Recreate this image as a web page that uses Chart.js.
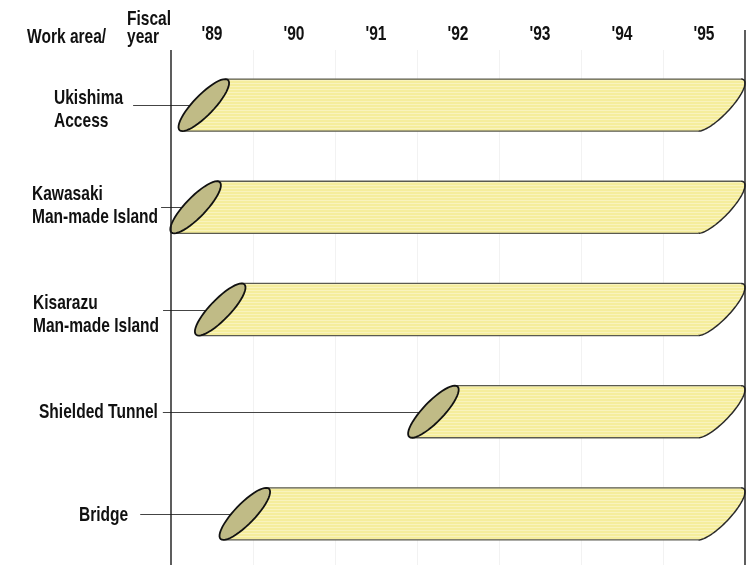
<!DOCTYPE html>
<html>
<head>
<meta charset="utf-8">
<script src="https://cdn.jsdelivr.net/npm/chart.js@4.4.1/dist/chart.umd.min.js"></script>
<style>
  html, body { margin: 0; padding: 0; background: #ffffff; }
  #wrap { width: 754px; height: 565px; position: relative; }
  canvas { display: block; }
</style>
</head>
<body>
<div id="wrap"><canvas id="c" width="754" height="565"></canvas></div>
<script>
// ---- data ----
const workAreas = [
  ['Ukishima', 'Access'],
  ['Kawasaki', 'Man-made Island'],
  ['Kisarazu', 'Man-made Island'],
  ['Shielded Tunnel'],
  ['Bridge']
];
const startYear = [1989.4, 1989.3, 1989.6, 1992.2, 1989.9];
const endYear = [1996.0, 1996.0, 1996.0, 1996.0, 1996.0];
const fiscalYears = ["'89", "'90", "'91", "'92", "'93", "'94", "'95"];

// ---- styling (layout of the hand-set row labels) ----
const labelLeft = [54, 32, 33, 39, 79];
const labelFirstBaseline = [-1, -7, -1, 6, 7];
const leaderGap = [10, 3, 4, 5, 12];

const FONT = '"Liberation Sans", Arial, sans-serif';
const SQUEEZE = 0.74;

function condensedText(ctx, text, x, y) {
  const w = ctx.measureText(text).width * SQUEEZE;
  ctx.fillText(text, x, y, w);
  return w;
}

// stripe pattern for tube body
function makePattern(ctx) {
  const pc = document.createElement('canvas');
  pc.width = 4; pc.height = 3;
  const p = pc.getContext('2d');
  p.fillStyle = '#f5ed9c'; p.fillRect(0, 0, 4, 3);
  p.fillStyle = '#f9f3bd'; p.fillRect(0, 2, 4, 1);
  return ctx.createPattern(pc, 'repeat');
}

function ellipseArc(ctx, cx, cy, dx, hh, bw, t0, t1, first) {
  const n = 48;
  for (let k = 0; k <= n; k++) {
    const t = t0 + (t1 - t0) * k / n;
    const x = cx + dx * Math.cos(t) + bw * Math.sin(t);
    const y = cy - hh * Math.cos(t);
    if (k === 0 && first) ctx.moveTo(x, y); else ctx.lineTo(x, y);
  }
}

const tubePlugin = {
  id: 'tubes',
  beforeDraw(chart) {
    // condense the axis tick labels drawn by the x scale
    const ctx = chart.ctx;
    if (!ctx._origFillText) {
      ctx._origFillText = ctx.fillText;
      ctx.fillText = function (t, x, y, mw) {
        const w = this.measureText(t).width * SQUEEZE;
        return ctx._origFillText.call(this, t, x, y, mw === undefined ? w : Math.min(w, mw));
      };
    }
  },
  beforeDatasetsDraw(chart) {
    const { ctx, chartArea, scales } = chart;
    if (ctx._origFillText) { ctx.fillText = ctx._origFillText; delete ctx._origFillText; }
    ctx.save();
    ctx.strokeStyle = 'rgba(0,0,0,0.05)';
    ctx.lineWidth = 1;
    for (let yr = 1990; yr < 1996; yr++) {
      const x = Math.round(scales.x.getPixelForValue(yr)) + 0.5;
      ctx.beginPath(); ctx.moveTo(x, chartArea.top - 4); ctx.lineTo(x, chartArea.bottom); ctx.stroke();
    }
    ctx.restore();
  },
  afterDatasetsDraw(chart) {
    const { ctx } = chart;
    const meta = chart.getDatasetMeta(0);
    const pat = makePattern(ctx);
    ctx.save();
    ctx.font = 'bold 21px ' + FONT;
    ctx.textBaseline = 'alphabetic';
    ctx.textAlign = 'left';
    meta.data.forEach((bar, i) => {
      const h = bar.height;
      const hh = h / 2;
      const dx = 0.41 * h;
      const bw = 0.26 * h;
      const yc = bar.y;
      const Lx = bar.base;
      const rExt = Math.sqrt(dx * dx + bw * bw);
      const Rx = bar.x - rExt;
      const top = yc - hh, bottom = yc + hh;

      // label
      const lines = workAreas[i];
      ctx.fillStyle = '#111';
      let maxW = 0;
      lines.forEach((ln, k) => {
        const w = condensedText(ctx, ln, labelLeft[i], yc + labelFirstBaseline[i] + k * 23);
        maxW = Math.max(maxW, w);
      });
      // leader line
      ctx.strokeStyle = '#444';
      ctx.lineWidth = 1;
      ctx.beginPath();
      ctx.moveTo(labelLeft[i] + maxW + leaderGap[i], Math.round(yc) + 0.5);
      ctx.lineTo(Lx - bw + 1, Math.round(yc) + 0.5);
      ctx.stroke();

      // body
      ctx.beginPath();
      ctx.moveTo(Lx + dx, top);
      ctx.lineTo(Rx + dx, top);
      ellipseArc(ctx, Rx, yc, dx, hh, bw, 0, Math.PI, false);
      ctx.lineTo(Lx - dx, bottom);
      ellipseArc(ctx, Lx, yc, dx, hh, bw, Math.PI, 0, false);
      ctx.closePath();
      ctx.fillStyle = pat;
      ctx.fill();

      // edges
      ctx.strokeStyle = '#5a5a50';
      ctx.lineWidth = 1.3;
      ctx.beginPath();
      ctx.moveTo(Lx + dx, top); ctx.lineTo(Rx + dx, top);
      ctx.moveTo(Lx - dx, bottom); ctx.lineTo(Rx - dx, bottom);
      ctx.stroke();
      ctx.strokeStyle = '#2a2a2a';
      ctx.lineWidth = 1.5;
      ctx.beginPath();
      ellipseArc(ctx, Rx, yc, dx, hh, bw, 0, Math.PI, true);
      ctx.stroke();

      // left cap
      ctx.beginPath();
      ellipseArc(ctx, Lx, yc, dx, hh, bw, 0, Math.PI * 2, true);
      ctx.closePath();
      ctx.fillStyle = '#c0bb86';
      ctx.fill();
      ctx.strokeStyle = '#111';
      ctx.lineWidth = 1.8;
      ctx.stroke();
    });
    ctx.restore();
  },
  afterDraw(chart) {
    const { ctx, chartArea } = chart;
    ctx.save();
    ctx.strokeStyle = '#1a1a1a';
    ctx.lineWidth = 1.4;
    ctx.beginPath();
    ctx.moveTo(chartArea.left, 50); ctx.lineTo(chartArea.left, 565);
    ctx.moveTo(chartArea.right, 30); ctx.lineTo(chartArea.right, 565);
    ctx.stroke();
    ctx.fillStyle = '#111';
    ctx.font = 'bold 21px ' + FONT;
    ctx.textAlign = 'left';
    ctx.textBaseline = 'alphabetic';
    condensedText(ctx, 'Work area/', 27, 43);
    condensedText(ctx, 'Fiscal', 127, 25);
    condensedText(ctx, 'year', 127, 43);
    ctx.restore();
  }
};

new Chart(document.getElementById('c').getContext('2d'), {
  type: 'bar',
  data: {
    labels: workAreas.map(l => l.join(' ')),
    datasets: [{
      data: startYear.map((s, i) => [s, endYear[i]]),
      backgroundColor: 'rgba(0,0,0,0)',
      borderWidth: 0,
      barPercentage: 0.51,
      categoryPercentage: 1
    }]
  },
  options: {
    indexAxis: 'y',
    responsive: false,
    animation: false,
    layout: { padding: { left: 0, right: 9, top: 0, bottom: 0 } },
    plugins: { legend: { display: false }, tooltip: { enabled: false } },
    scales: {
      x: {
        type: 'linear',
        position: 'top',
        min: 1989,
        max: 1996,
        grid: { display: false, drawTicks: false },
        border: { display: false },
        afterBuildTicks: s => { s.ticks = fiscalYears.map((l, i) => ({ value: 1989.5 + i })); },
        afterFit: s => { s.height = 54; },
        ticks: {
          autoSkip: false,
          maxRotation: 0,
          padding: 7,
          color: '#111',
          font: { family: FONT, size: 21, weight: 'bold' },
          callback: (v, i) => fiscalYears[i]
        }
      },
      y: {
        grid: { display: false },
        border: { display: false },
        ticks: { display: false },
        afterFit: s => { s.width = 171; }
      }
    }
  },
  plugins: [tubePlugin]
});
</script>
</body>
</html>
